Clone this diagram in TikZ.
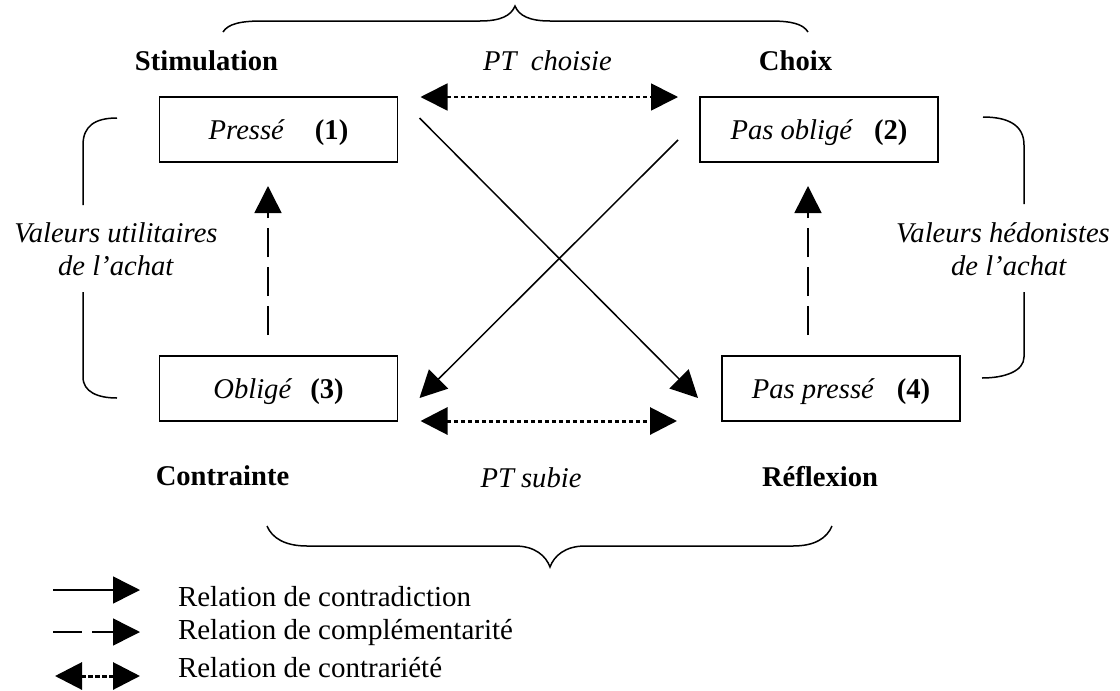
\documentclass[tikz,border=0pt]{standalone}
\usepackage{fontspec}
\setmainfont{Liberation Serif}
\usetikzlibrary{arrows.meta,calc}
\begin{document}
\begin{tikzpicture}[x=1pt,y=-1pt,
  every node/.style={font=\fontsize{28.6pt}{34pt}\selectfont, inner sep=0pt, outer sep=0pt},
  boxnode/.style={draw, line width=1.5pt, minimum width=238pt, minimum height=65pt, text height=23pt, text depth=4pt},
  lbl/.style={anchor=base},
  leg/.style={anchor=base west, font=\fontsize{29pt}{34pt}\selectfont},
  tip/.style={Triangle[length=27pt,width=27pt]},
  contra/.style={line width=1.5pt, -{Triangle[length=27pt,width=27pt]}},
  compl/.style={line width=1.5pt, dash pattern=on 29pt off 10pt, -{Triangle[length=27pt,width=27pt]}},
  thindot/.style={line width=1.7pt, dash pattern=on 4pt off 3pt, {Triangle[length=27pt,width=27pt]}-{Triangle[length=27pt,width=27pt]}},
  thickdot/.style={line width=3pt, dash pattern=on 4.5pt off 2.5pt, {Triangle[length=27pt,width=27pt]}-{Triangle[length=27pt,width=27pt]}},
  curly/.style={line width=1.5pt}
]
\useasboundingbox (0,0) rectangle (1120,691);

% boxes
\node[boxnode] (b1) at (278.5,129.5) {\textit{Pressé}\hspace{30pt}\textbf{(1)}};
\node[boxnode] (b2) at (819,129.5) {\textit{Pas obligé}\hspace{21pt}\textbf{(2)}};
\node[boxnode] (b3) at (278.5,388.5) {\textit{Obligé}\hspace{18pt}\textbf{(3)}};
\node[boxnode] (b4) at (841,388.5) {\textit{Pas pressé}\hspace{22pt}\textbf{(4)}};

% labels
\node[lbl] (stim) at (206.5,70) {\textbf{Stimulation}};
\node[lbl] (ptc) at (547.5,70) {\textit{PT\ \ choisie}};
\node[lbl] (choix) at (795.5,70) {\textbf{Choix}};
\node[lbl] (contr) at (222.5,485) {\textbf{Contrainte}};
\node[lbl] (pts) at (531,487) {\textit{PT subie}};
\node[lbl] (refl) at (820,486) {\textbf{Réflexion}};
\node[lbl] (vu1) at (116,242) {\textit{Valeurs utilitaires}};
\node[lbl] (vu2) at (116,275) {\textit{de l’achat}};
\node[lbl] (vh1) at (1003,242) {\textit{Valeurs hédonistes}};
\node[lbl] (vh2) at (1009,275) {\textit{de l’achat}};

% braces
\draw[curly] (223,32) .. controls (228,24) and (240,21) .. (262,21) -- (480,21)
  .. controls (500,21) and (511,16) .. (515,6)
  .. controls (519,16) and (530,21) .. (550,21) -- (770,21)
  .. controls (792,21) and (803,24) .. (808,32);
\draw[curly] (267,526) .. controls (272,538) and (285,546) .. (307,546) -- (515,546)
  .. controls (535,546) and (546,556) .. (550,567)
  .. controls (554,556) and (565,546) .. (585,546) -- (793,546)
  .. controls (815,546) and (827,538) .. (832,526);

% side brackets
\draw[curly] (117,118) .. controls (95,118) and (83,126) .. (83,145) -- (83,205);
\draw[curly] (83,292) -- (83,377) .. controls (83,392) and (98,398) .. (117,398);
\draw[curly] (983,117) .. controls (1008,117) and (1024,125) .. (1024,145) -- (1024,204);
\draw[curly] (1024,292) -- (1024,357) .. controls (1024,371) and (1005,378) .. (982,378);

% connector end points
\coordinate (a1s) at ($(b1.east)+(22,-11.5)$);
\coordinate (a1e) at ($(b4.west)+(-24,9.5)$);
\coordinate (a2s) at ($(b2.west)+(-22,10.5)$);
\coordinate (a2e) at ($(b3.east)+(22,9.5)$);
\coordinate (d1s) at ($(b1.north east)+(23,0)$);
\coordinate (d1e) at ($(b2.north west)+(-22,0)$);
\coordinate (d2s) at ($(b3.south east)+(23,0)$);
\coordinate (d2e) at ($(b4.south west)+(-45,0)$);
\coordinate (v1s) at ($(b3.north)+(-10.5,-21)$);
\coordinate (v1e) at ($(b3.north)+(-10.5,-170)$);
\coordinate (v2s) at ($(b4.north)+(-33,-21)$);
\coordinate (v2e) at ($(b4.north)+(-33,-170)$);

% connectors
\draw[contra] (a1s) -- (a1e);
\draw[contra] (a2s) -- (a2e);
\draw[thindot] (d1s) -- (d1e);
\draw[thickdot] (d2s) -- (d2e);
\draw[compl] (v1s) -- (v1e);
\draw[compl] (v2s) -- (v2e);

% legend
\coordinate (l1s) at (53,590); \coordinate (l1e) at (140,590);
\coordinate (l2s) at (53,632); \coordinate (l2e) at (140,632);
\coordinate (l3s) at (55,676); \coordinate (l3e) at (140,676);
\draw[contra] (l1s) -- (l1e);
\draw[compl] (l2s) -- (l2e);
\draw[thickdot] (l3s) -- (l3e);
\node[leg] (t1) at (178,606) {Relation de contradiction};
\node[leg] (t2) at (178,639) {Relation de complémentarité};
\node[leg] (t3) at (178,677) {Relation de contrariété};
\end{tikzpicture}
\end{document}
